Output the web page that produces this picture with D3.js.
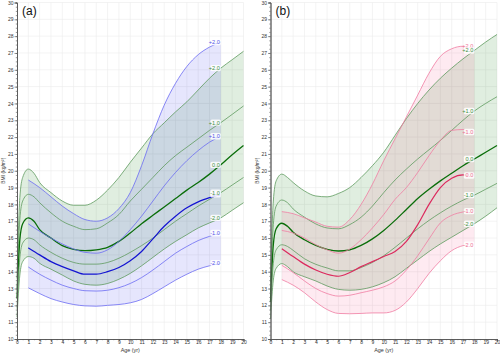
<!DOCTYPE html>
<html>
<head>
<meta charset="utf-8">
<script src="https://cdn.jsdelivr.net/npm/d3@7"></script>
<style>
  body { margin: 0; background: #fff; }
  svg { display: block; font-family: "Liberation Sans", Arial, sans-serif; }
</style>
</head>
<body>
<svg width="500" height="353"></svg>
<script>
// reference curves (green), ages 0-20
const refAges = [0, 0.25, 0.5, 1, 1.5, 2, 3, 4, 5, 6, 7, 8, 9, 10, 11, 12, 13, 14, 15, 16, 17, 18, 19, 20];

// panel (a) reference
const refA_p2 = [13.6, 18.4, 19.6, 20.1, 19.85, 19.3, 18.7, 18.2, 17.95, 17.95, 18.25, 18.85, 19.6, 20.5, 21.35, 22.2, 22.85, 23.5, 24.1, 24.8, 25.5, 26.1, 26.6, 27.1];
const refA_p1 = [13.0, 17.1, 18.2, 18.6, 18.45, 18.1, 17.5, 17.0, 16.7, 16.5, 16.55, 16.9, 17.4, 18.2, 18.9, 19.6, 20.3, 20.9, 21.4, 21.9, 22.4, 22.86, 23.35, 23.85];
const refA_0 = [12.4, 15.9, 16.85, 17.2, 17.0, 16.5, 16.0, 15.55, 15.33, 15.25, 15.3, 15.45, 15.8, 16.3, 16.85, 17.35, 17.85, 18.35, 18.85, 19.3, 19.8, 20.35, 20.95, 21.5];
const refA_m1 = [11.8, 14.8, 15.7, 16.0, 15.9, 15.6, 15.15, 14.8, 14.55, 14.45, 14.45, 14.55, 14.8, 15.15, 15.55, 16.0, 16.5, 17.0, 17.45, 17.9, 18.3, 18.7, 19.15, 19.6];
const refA_m2 = [11.3, 13.8, 14.6, 14.9, 14.8, 14.5, 14.15, 13.8, 13.45, 13.25, 13.2, 13.3, 13.55, 13.9, 14.35, 14.85, 15.35, 15.8, 16.2, 16.6, 16.9, 17.2, 17.65, 18.1];

// panel (b) reference
const refB_p2 = [13.4, 18.2, 19.4, 19.8, 19.6, 19.3, 18.8, 18.5, 18.45, 18.65, 19.0, 19.6, 20.3, 21.1, 22.1, 23.1, 24.0, 24.8, 25.5, 26.1, 26.65, 27.15, 27.65, 28.1];
const refB_p1 = [12.8, 16.8, 17.9, 18.26, 18.1, 17.73, 17.24, 16.84, 16.6, 16.55, 16.8, 17.24, 17.9, 18.7, 19.45, 20.1, 20.7, 21.25, 21.8, 22.4, 23.0, 23.55, 24.0, 24.4];
const refB_0 = [12.2, 15.6, 16.55, 16.88, 16.7, 16.35, 15.9, 15.56, 15.33, 15.23, 15.3, 15.56, 15.95, 16.45, 17.05, 17.7, 18.35, 18.9, 19.4, 19.85, 20.3, 20.7, 21.1, 21.5];
const refB_m1 = [11.7, 14.5, 15.3, 15.6, 15.5, 15.27, 14.77, 14.44, 14.22, 14.05, 14.05, 14.25, 14.55, 14.95, 15.45, 16.0, 16.55, 17.05, 17.5, 17.9, 18.25, 18.55, 18.9, 19.25];
const refB_m2 = [11.2, 13.5, 14.2, 14.48, 14.3, 14.0, 13.7, 13.45, 13.15, 12.95, 12.9, 12.95, 13.1, 13.35, 13.7, 14.2, 14.7, 15.2, 15.65, 16.05, 16.45, 16.85, 17.3, 17.8];

// panel (a) study curves (blue), ages 1-18
const blueAges = [1, 2, 3, 4, 5, 6, 7, 8, 9, 10, 11, 12, 13, 14, 15, 16, 17, 18];
const blue_p2 = [19.45, 19.0, 18.45, 17.9, 17.45, 17.1, 17.0, 17.2, 17.75, 18.7, 20.3, 22.2, 23.9, 25.2, 26.2, 26.9, 27.35, 27.65];
const blue_p1 = [16.84, 16.4, 16.0, 15.65, 15.35, 15.15, 15.1, 15.3, 15.8, 16.5, 17.3, 18.2, 19.1, 19.9, 20.6, 21.2, 21.7, 22.05];
const blue_0 = [15.42, 15.0, 14.6, 14.3, 14.05, 13.85, 13.85, 14.0, 14.25, 14.65, 15.2, 15.95, 16.7, 17.3, 17.8, 18.15, 18.4, 18.6];
const blue_m1 = [14.28, 13.85, 13.5, 13.2, 13.0, 12.87, 12.85, 12.9, 13.05, 13.3, 13.65, 14.1, 14.6, 15.1, 15.5, 15.85, 16.1, 16.3];
const blue_m2 = [13.04, 12.7, 12.4, 12.2, 12.05, 11.97, 11.95, 12.0, 12.05, 12.15, 12.35, 12.7, 13.1, 13.5, 13.85, 14.15, 14.35, 14.5];

// panel (b) study curves (pink), ages 1-17.4
const pinkAges = [1, 2, 3, 4, 5, 6, 7, 8, 9, 10, 11, 12, 13, 14, 15, 16, 17, 17.4];
const pink_p2 = [17.57, 17.45, 17.2, 16.95, 16.7, 16.65, 17.1, 18.0, 19.2, 20.6, 21.9, 23.2, 24.5, 25.8, 26.8, 27.25, 27.4, 27.4];
const pink_p1 = [16.45, 16.3, 16.0, 15.6, 15.3, 15.1, 15.35, 15.9, 16.6, 17.4, 18.3, 19.0, 19.9, 20.9, 21.8, 22.4, 22.45, 22.3];
const pink_0 = [15.37, 14.9, 14.45, 14.1, 13.85, 13.73, 13.95, 14.3, 14.6, 14.9, 15.2, 15.8, 16.8, 18.0, 19.0, 19.55, 19.75, 19.72];
const pink_m1 = [14.38, 13.95, 13.45, 13.0, 12.7, 12.55, 12.6, 12.75, 12.9, 13.1, 13.45, 14.1, 14.95, 15.95, 16.9, 17.35, 17.55, 17.6];
const pink_m2 = [13.53, 13.2, 12.75, 12.2, 11.75, 11.52, 11.5, 11.52, 11.55, 11.55, 11.7, 12.2, 13.0, 13.9, 14.65, 15.25, 15.55, 15.6];

const sdLabels = ['+2.0', '+1.0', '0.0', '-1.0', '-2.0'];
const xTicks = d3.range(0, 21);
const yTicks = d3.range(10, 31);

const svg = d3.select('svg');

function drawPanel(opts) {
  const x = d3.scaleLinear().domain([0, 20]).range([opts.left, opts.left + 226.5]);
  const y = d3.scaleLinear().domain([10, 30]).range([339, 2.5]);
  const g = svg.append('g');

  // grid
  g.append('g').selectAll('line').data(xTicks.slice(1)).join('line')
    .attr('x1', (d) => x(d)).attr('x2', (d) => x(d))
    .attr('y1', y(10)).attr('y2', y(30))
    .attr('stroke', '#ebebeb').attr('stroke-width', 0.6);
  g.append('g').selectAll('line').data(yTicks.slice(1)).join('line')
    .attr('x1', x(0)).attr('x2', x(20))
    .attr('y1', (d) => y(d)).attr('y2', (d) => y(d))
    .attr('stroke', '#ebebeb').attr('stroke-width', 0.6);

  const line = d3.line().x((d) => x(d[0])).y((d) => y(d[1])).curve(d3.curveMonotoneX);
  const area = d3.area().x((d) => x(d[0])).y0((d) => y(d[1])).y1((d) => y(d[2])).curve(d3.curveMonotoneX);

  // green reference band
  const refRows = refAges.map((a, i) => [a, opts.ref[4][i], opts.ref[0][i]]);
  g.append('path').attr('d', area(refRows)).attr('fill', 'rgba(46,139,46,0.15)');

  // study band, drawn to 18
  const bandRows = opts.ages.map((a, i) => [a, opts.study[4][i], opts.study[0][i]]);
  const last = bandRows[bandRows.length - 1];
  if (last[0] < 18) bandRows.push([18, last[1], last[2]]);
  g.append('path').attr('d', area(bandRows)).attr('fill', opts.fill);

  // reference lines
  opts.ref.forEach((vals, k) => {
    g.append('path')
      .attr('d', line(refAges.map((a, i) => [a, vals[i]])))
      .attr('fill', 'none')
      .attr('stroke', k === 2 ? '#0a6e0a' : '#5e9a5e')
      .attr('stroke-width', k === 2 ? 1.3 : 0.8);
  });

  // study lines
  opts.study.forEach((vals, k) => {
    g.append('path')
      .attr('d', line(opts.ages.map((a, i) => [a, vals[i]])))
      .attr('fill', 'none')
      .attr('stroke', k === 2 ? opts.thick : opts.thin)
      .attr('stroke-width', k === 2 ? 1.2 : 0.8);
  });

  // labels: study first, reference on top
  function addLabel(txt, yv, color) {
    const lg = g.append('g').attr('transform', `translate(${x(18)},${y(yv)})`);
    lg.append('rect').attr('x', -10.5).attr('y', -3.2).attr('width', 10.5).attr('height', 6.4)
      .attr('rx', 1.5).attr('fill', 'rgba(255,255,255,0.85)');
    lg.append('text').attr('x', -1).attr('y', 2)
      .attr('text-anchor', 'end').attr('font-size', 5.6).attr('fill', color).text(txt);
  }
  opts.study.forEach((vals, k) => addLabel(sdLabels[k], vals[vals.length - 1], opts.labelColor));
  opts.ref.forEach((vals, k) => {
    const v = d3.scaleLinear().domain(refAges).range(vals)(18);
    addLabel(sdLabels[k], v, '#3f8f3f');
  });

  // axes
  const yAxis = g.append('g').attr('transform', `translate(${x(0)},0)`)
    .call(d3.axisLeft(y).tickValues(yTicks).tickSize(2.5).tickFormat(d3.format('d')));
  g.append('g').attr('transform', `translate(${x(0)},0)`)
    .call(d3.axisLeft(y).tickValues(d3.range(10, 30.01, 0.25)).tickSize(1.2).tickFormat(''));
  const xAxis = g.append('g').attr('transform', `translate(0,${y(10)})`)
    .call(d3.axisBottom(x).tickValues(xTicks).tickSize(2.5).tickFormat(d3.format('d')));
  g.append('g').attr('transform', `translate(0,${y(10)})`)
    .call(d3.axisBottom(x).tickValues(d3.range(0, 20.01, 0.5)).tickSize(1.2).tickFormat(''));
  g.selectAll('.domain').attr('stroke', '#555').attr('stroke-width', 0.8);
  g.selectAll('.tick line').attr('stroke', '#555').attr('stroke-width', 0.6);
  yAxis.selectAll('text').attr('font-size', 5).attr('fill', '#333').attr('x', -3.5);
  xAxis.selectAll('text').attr('font-size', 5).attr('fill', '#333').attr('y', 1.6);

  g.append('text').attr('x', x(10)).attr('y', 351.5).attr('text-anchor', 'middle')
    .attr('font-size', 5.4).attr('fill', '#333').text('Age (yr)');
  g.append('text').attr('transform', `translate(${x(0) - 12},${y(20)}) rotate(-90)`)
    .attr('text-anchor', 'middle').attr('font-size', 5).attr('fill', '#333').text('BMI (kg/m²)');

  g.append('text').attr('x', x(0) + 5).attr('y', 15).attr('font-size', 12).attr('fill', '#111')
    .text(opts.tag);
}

drawPanel({
  left: 17, tag: '(a)',
  ref: [refA_p2, refA_p1, refA_0, refA_m1, refA_m2],
  ages: blueAges, study: [blue_p2, blue_p1, blue_0, blue_m1, blue_m2],
  fill: 'rgba(60,60,240,0.13)', thin: '#6b6bf2', thick: '#1414d2', labelColor: '#5555e8',
});
drawPanel({
  left: 270.5, tag: '(b)',
  ref: [refB_p2, refB_p1, refB_0, refB_m1, refB_m2],
  ages: pinkAges, study: [pink_p2, pink_p1, pink_0, pink_m1, pink_m2],
  fill: 'rgba(250,80,140,0.12)', thin: '#f07ca2', thick: '#dc2a5e', labelColor: '#ee7096',
});
</script>
</body>
</html>
